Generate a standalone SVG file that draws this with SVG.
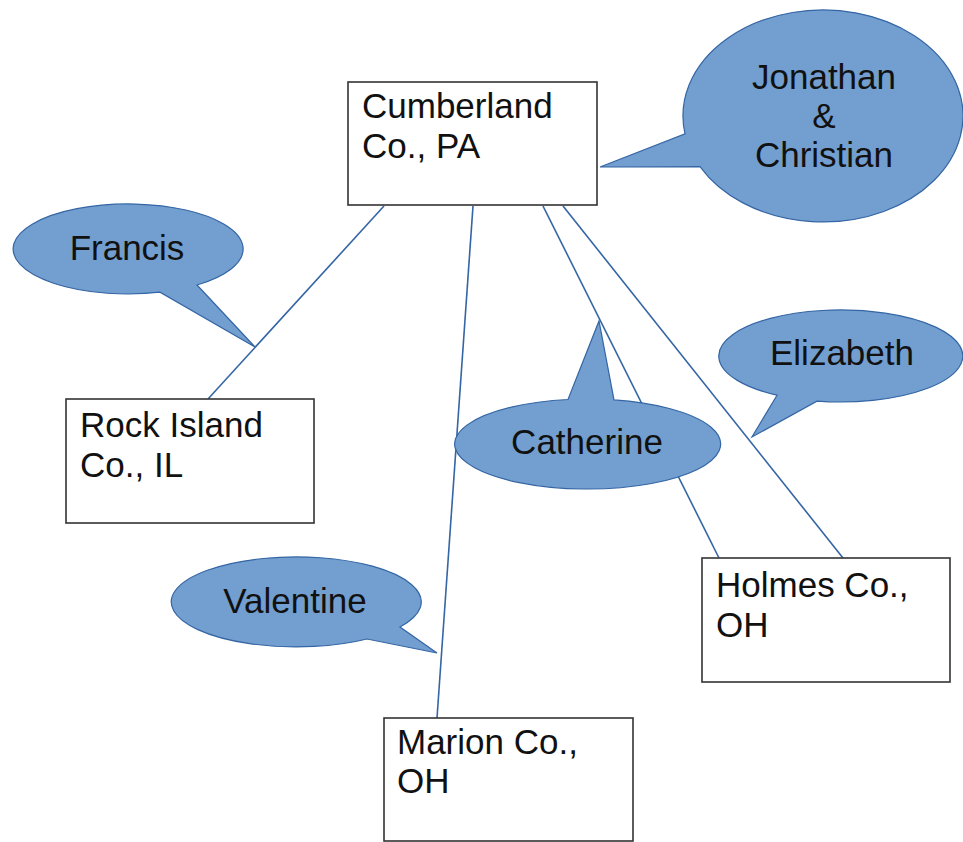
<svg xmlns="http://www.w3.org/2000/svg" width="963" height="842" viewBox="0 0 963 842">
<style>
.box{fill:#fff;stroke:#333;stroke-width:1.6}
.call{fill:#729fcf;stroke:#3465a4;stroke-width:1.2}
.conn{stroke:#3465a4;stroke-width:1.6;fill:none}
text{font-family:"Liberation Sans",Arial,sans-serif;font-size:35px;fill:#111}
.c{text-anchor:middle}
</style>
<rect width="963" height="842" fill="#fff"/>
<g id="connectors">
<line class="conn" x1="384" y1="206" x2="208" y2="399"/>
<line class="conn" x1="473" y1="206" x2="437" y2="718"/>
<line class="conn" x1="543" y1="206" x2="719" y2="558"/>
<line class="conn" x1="563" y1="206" x2="843" y2="558"/>
</g>
<g id="cumberland">
<rect class="box" x="348" y="82" width="249" height="123"/>
<text x="362" y="118">Cumberland</text>
<text x="362" y="158">Co., PA</text>
</g>
<g id="rockisland">
<rect class="box" x="66" y="399" width="248" height="124"/>
<text x="80" y="437">Rock Island</text>
<text x="80" y="477">Co., IL</text>
</g>
<g id="holmes">
<rect class="box" x="702" y="558" width="248" height="124"/>
<text x="716" y="597">Holmes Co.,</text>
<text x="716" y="637">OH</text>
</g>
<g id="marion">
<rect class="box" x="384" y="718" width="249" height="123"/>
<text x="397" y="754">Marion Co.,</text>
<text x="397" y="793">OH</text>
</g>
<g id="jonathan">
<path class="call" d="M685,133.9 A140,106 0 1 1 700,166.6 L600,167 Z"/>
<text class="c" x="824" y="89">Jonathan</text>
<text class="c" x="824" y="128">&amp;</text>
<text class="c" x="824" y="167">Christian</text>
</g>
<g id="francis">
<path class="call" d="M197,285 A115,45 0 1 0 160,292.2 L255,347 Z"/>
<text class="c" x="127" y="260">Francis</text>
</g>
<g id="catherine">
<path class="call" d="M614,399.9 A133,45 0 1 1 568,399.5 L599,321 Z"/>
<text class="c" x="587" y="454">Catherine</text>
</g>
<g id="elizabeth">
<path class="call" d="M817,401.1 A122,46 0 1 0 777,395.2 L752,437 Z"/>
<text class="c" x="842" y="365">Elizabeth</text>
</g>
<g id="valentine">
<path class="call" d="M400,627 A125,45 0 1 0 367,639 L437,653 Z"/>
<text class="c" x="295" y="613">Valentine</text>
</g>
</svg>
